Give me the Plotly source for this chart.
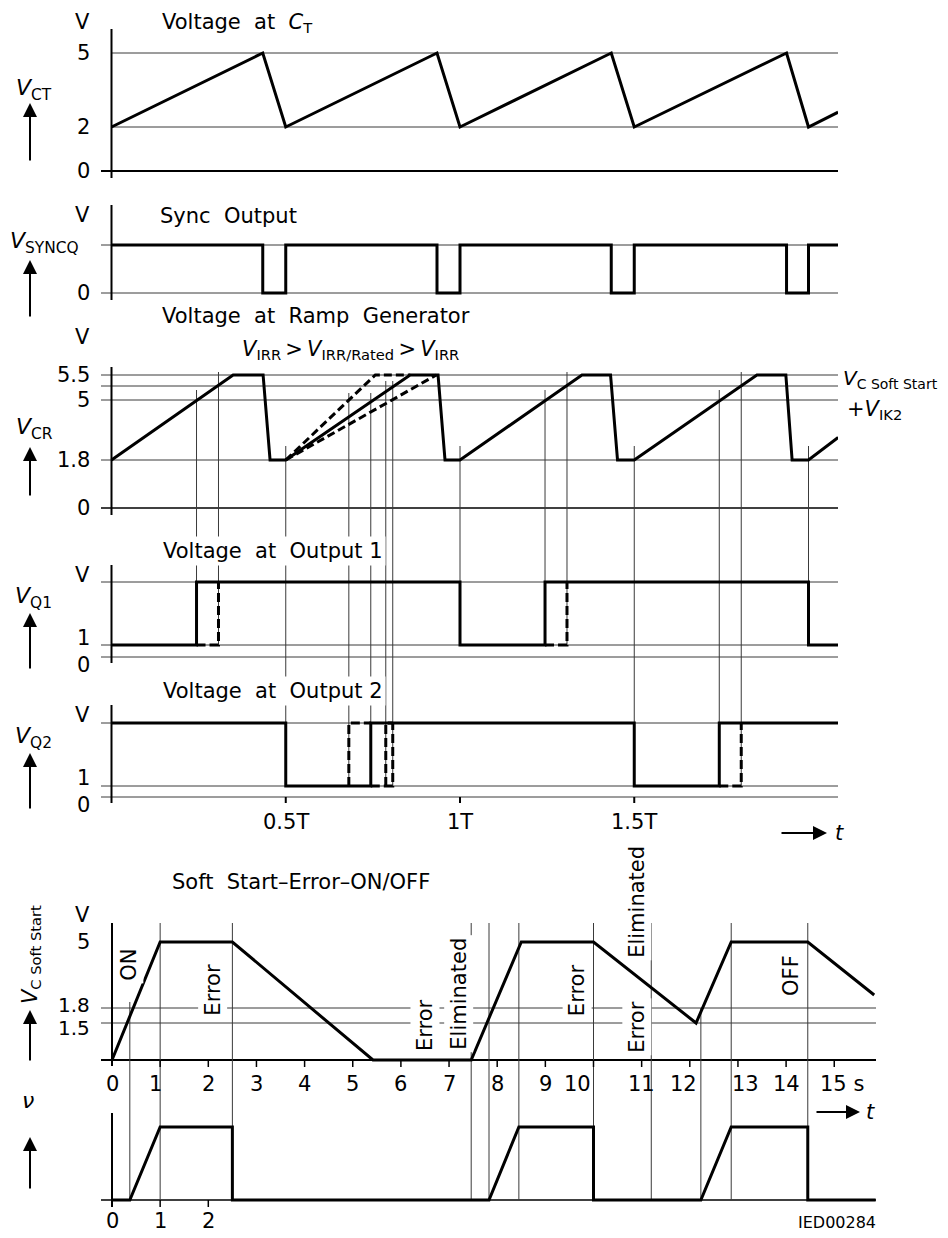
import numpy as np
import plotly.graph_objects as go

W, H = 948, 1238

# ======================= DATA =======================
# --- upper diagrams: time in periods T ---
CT_LEVELS = [0, 2, 5]
CT_TICKS = ['0', '2', '5']
CT_T = [0, 0.434, 0.5, 0.934, 1.0, 1.434, 1.5, 1.937, 2.0, 2.085]
CT_V = [2, 5, 2, 5, 2, 5, 2, 5, 2, 2.6]

SYNC_HIGH = 1
SYNC_LEVELS = [0, SYNC_HIGH]
SYNC_TICKS = ['0', '']
SYNC_T = [0, 0.434, 0.5, 0.934, 1.0, 1.434, 1.5, 1.937, 2.0, 2.085]
SYNC_V = [1, 0, 1, 0, 1, 0, 1, 0, 1, 1]

CR_LEVELS = [0, 1.8, 5, 5.3, 5.5]
CR_TICKS = ['0', '1.8', '5', '', '5.5']
CR_T = [0, 0.349, 0.435, 0.455, 0.5, 0.857, 0.937, 0.957, 1.0,
        1.35, 1.432, 1.452, 1.5, 1.852, 1.935, 1.953, 2.0, 2.085]
CR_V = [1.8, 5.5, 5.5, 1.8, 1.8, 5.5, 5.5, 1.8, 1.8,
        5.5, 5.5, 1.8, 1.8, 5.5, 5.5, 1.8, 1.8, 3.0]
CR_FAST_T = [0.5, 0.757, 0.857]
CR_FAST_V = [1.8, 5.5, 5.5]
CR_SLOW_T = [0.5, 0.932]
CR_SLOW_V = [1.8, 5.5]

Q_HIGH = 6
Q_LEVELS = [0, 1, Q_HIGH]
Q_TICKS = ['0', '1', '']
Q1_T = [0, 0.244, 1.0, 1.244, 2.0, 2.085]
Q1_V = [1, Q_HIGH, 1, Q_HIGH, 1, 1]
Q1_DASH_T = [0.244, 0.307, 0.307, None, 1.244, 1.307, 1.307]
Q1_DASH_V = [1, 1, Q_HIGH, None, 1, 1, Q_HIGH]
Q2_T = [0, 0.5, 0.744, 1.5, 1.744, 2.085]
Q2_V = [Q_HIGH, 1, Q_HIGH, 1, Q_HIGH, Q_HIGH]
Q2_DASH_T = [0.681, 0.681, 0.744, None, 0.744, 0.807, 0.807, None,
             0.787, 0.787, 0.807, None, 1.744, 1.807, 1.807]
Q2_DASH_V = [1, Q_HIGH, Q_HIGH, None, 1, 1, Q_HIGH, None,
             1, Q_HIGH, Q_HIGH, None, 1, 1, Q_HIGH]

MARK_T = [0.244, 0.307, 0.5, 0.681, 0.744, 0.787, 0.807, 1.0,
          1.244, 1.307, 1.5, 1.744, 1.807, 2.0]
MARK_END = ['q1', 'q1', 'q2', 'q2', 'q2', 'q2', 'q2', 'q1',
            'q1', 'q1', 'q2', 'q2', 'q2', 'q1']

T_TICKS = [0.5, 1.0, 1.5]
T_TICK_TEXT = ['0.5T', '1T', '1.5T']

# --- lower diagrams: time in seconds ---
SS_LEVELS = [0, 1.5, 1.8, 5]
SS_TICKS = ['', '1.5', '1.8', '5']
SS_T = [0, 1.0, 2.5, 5.42, 7.46, 8.5, 10.0, 12.13, 12.86, 14.45, 15.83]
SS_V = [0, 5, 5, 0, 0, 5, 5, 1.5, 5, 5, 2.43]

NU_HIGH = 1
NU_LEVELS = [0, NU_HIGH]
NU_T = [0, 0.37, 1.0, 2.5, 2.5, 7.83, 8.45, 10.0, 10.0, 12.23, 12.86, 14.45, 14.45, 15.86]
NU_V = [0, 0, 1, 1, 0, 0, 1, 1, 0, 0, 1, 1, 0, 0]

SS_MARK_T = [0.37, 1.0, 2.5, 7.46, 7.83, 8.45, 10.0, 11.2, 12.23, 12.86, 14.45]

SEC_TICKS = list(range(16))
SEC_TEXT = [str(i) for i in range(15)] + ['15 s']
NU_TICKS = [0, 1, 2]

EVENT_TEXT = [  # (label, time s)
    ('ON', 0.35), ('Error', 2.09), ('Error', 6.5), ('Eliminated', 7.2),
    ('Error', 9.66), ('Eliminated', 10.9), ('Error', 10.9), ('OFF', 14.1)]

# ======================= LAYOUT (pixels) =======================
X0_T, T_PX = 111.5, 348.5          # x pixel of t=0 and pixels per period
X0_S, S_PX = 112.0, 48.15          # x pixel of 0 s and pixels per second
TOP_X = (101, 838)
BOT_X = (101, 876)

PANELS = {
    'ct':   dict(ax='y',  xa='x',  box=(25, 185, 171), lv=CT_LEVELS,   lp=[171, 127, 53],            line=(29, 178)),
    'sync': dict(ax='y2', xa='x',  box=(185, 310, 293), lv=SYNC_LEVELS, lp=[293, 245],                line=(205, 300)),
    'cr':   dict(ax='y3', xa='x',  box=(310, 520, 508), lv=CR_LEVELS,   lp=[508, 460, 400, 386, 375], line=(367, 515)),
    'q1':   dict(ax='y4', xa='x',  box=(520, 680, 657), lv=Q_LEVELS,    lp=[657, 645, 582],           line=(565, 663)),
    'q2':   dict(ax='y5', xa='x',  box=(680, 815, 797), lv=Q_LEVELS,    lp=[797, 786, 723],           line=(705, 803)),
    'ss':   dict(ax='y6', xa='x2', box=(890, 1080, 1060), lv=SS_LEVELS, lp=[1060, 1023, 1008, 942],   line=(923, 1066)),
    'nu':   dict(ax='y7', xa='x2', box=(1080, 1215, 1200), lv=NU_LEVELS, lp=[1200, 1127],             line=(1113, 1207)),
}
MARK_TOP_PX = [390, 372, 446, 393, 393, 381, 381, 446, 390, 372, 446, 390, 372, 446]
SS_MARK_TOP_PX = [1002, 923, 923, 923, 923, 923, 923, 923, 1008, 923, 923]

FONT = 'DejaVu Sans'
BLACK = 'black'
THIN = '#3a3a3a'


def fx(px):
    return px / W


def fy(py):
    return 1 - py / H


def hgt(p, v):
    """volts -> drawing height (px above zero line) of panel p (schematic axis)."""
    P = PANELS[p]
    z = P['box'][2]
    heights = [z - q for q in P['lp']]
    if v is None:
        return None
    return float(np.interp(v, P['lv'], heights))


def px_h(p, py):
    return PANELS[p]['box'][2] - py


def rng(p):
    t, b, z = PANELS[p]['box']
    return [z - b, z - t]


tx_left = (TOP_X[0] - X0_T) / T_PX
tx_right = (TOP_X[1] - X0_T) / T_PX
sx_left = (BOT_X[0] - X0_S) / S_PX
sx_right = (BOT_X[1] - X0_S) / S_PX

fig = go.Figure()


def add_line(p, xs, ys, width=3, color=BLACK, dash=None, shape='linear', volts=True):
    P = PANELS[p]
    yy = [hgt(p, v) for v in ys] if volts else ys
    fig.add_trace(go.Scatter(
        x=xs, y=yy, mode='lines', xaxis=P['xa'], yaxis=P['ax'],
        line=dict(color=color, width=width, dash=dash, shape=shape),
        hoverinfo='skip', showlegend=False, connectgaps=False))


def level_lines(p, left, right, zero_w, zero_c, from_axis=False):
    P = PANELS[p]
    for v in P['lv']:
        if v == 0:
            add_line(p, [left, right], [0, 0], width=zero_w, color=zero_c)
        else:
            add_line(p, [0 if from_axis else left, right], [v, v], width=1, color=THIN)


level_lines('ct', tx_left, tx_right, 2, BLACK, from_axis=True)
level_lines('sync', tx_left, tx_right, 1, THIN)
level_lines('cr', tx_left, tx_right, 1.5, BLACK)
level_lines('q1', tx_left, tx_right, 1, THIN)
level_lines('q2', tx_left, tx_right, 1, THIN)
add_line('ss', [sx_left, sx_right], [0, 0], width=2, color=BLACK)
for v in (1.5, 1.8):
    add_line('ss', [sx_left, sx_right], [v, v], width=1, color=THIN)
add_line('nu', [sx_left, sx_right], [0, 0], width=1.5, color=BLACK)

# ---- vertical marker lines (upper) ----
segs = {'cr': ([], []), 'q1': ([], []), 'q2': ([], [])}
for t, top, end in zip(MARK_T, MARK_TOP_PX, MARK_END):
    segs['cr'][0].extend([t, t, None]); segs['cr'][1].extend([px_h('cr', top), rng('cr')[0], None])
    q1_end = hgt('q1', 1) if end == 'q1' else rng('q1')[0]
    segs['q1'][0].extend([t, t, None]); segs['q1'][1].extend([rng('q1')[1], q1_end, None])
    if end == 'q2':
        segs['q2'][0].extend([t, t, None]); segs['q2'][1].extend([rng('q2')[1], hgt('q2', 1), None])
for p, (xs, ys) in segs.items():
    add_line(p, xs, ys, width=1, color=THIN, volts=False)

# ---- vertical marker lines (lower) ----
sx, sy, nx, ny = [], [], [], []
for t, top in zip(SS_MARK_T, SS_MARK_TOP_PX):
    sx.extend([t, t, None]); sy.extend([px_h('ss', top), rng('ss')[0], None])
    nx.extend([t, t, None]); ny.extend([rng('nu')[1], 0, None])
add_line('ss', sx, sy, width=1, color=THIN, volts=False)
add_line('nu', nx, ny, width=1, color=THIN, volts=False)

# ---- y axis lines ----
for p, P in PANELS.items():
    a, b = P['line']
    add_line(p, [0, 0], [px_h(p, a), px_h(p, b)], width=2, color=BLACK, volts=False)

# ---- x tick marks ----
tx, ty = [], []
for t in T_TICKS:
    tx.extend([t, t, None]); ty.extend([0, -6, None])
add_line('q2', tx, ty, width=2, volts=False)
tx, ty = [], []
for t in SEC_TICKS[1:]:
    tx.extend([t, t, None]); ty.extend([0, -7, None])
add_line('ss', tx, ty, width=1.5, volts=False)
tx, ty = [], []
for t in NU_TICKS[1:]:
    tx.extend([t, t, None]); ty.extend([0, -7, None])
add_line('nu', tx, ty, width=1.5, volts=False)

# ---- waveforms ----
add_line('ct', CT_T, CT_V)
add_line('sync', SYNC_T, [SYNC_LEVELS[v] for v in SYNC_V], shape='hv')
add_line('cr', CR_T, CR_V)
add_line('cr', CR_FAST_T, CR_FAST_V, dash='8px,4px')
add_line('cr', CR_SLOW_T, CR_SLOW_V, dash='8px,4px')
add_line('q1', Q1_T, Q1_V, shape='hv')
add_line('q1', Q1_DASH_T, Q1_DASH_V, dash='9px,4px')
add_line('q2', Q2_T, Q2_V, shape='hv')
add_line('q2', Q2_DASH_T, Q2_DASH_V, dash='9px,4px')
add_line('ss', SS_T, SS_V)
add_line('nu', NU_T, [NU_LEVELS[v] for v in NU_V])

# ======================= TEXT =======================
ann = []


def text(s, x, y, anchor='left', size=21, angle=0, bg=None, xref='paper', yref='paper', yshift=0, xshift=0, family=FONT):
    d = dict(text=s, x=x, y=y, xref=xref, yref=yref, xanchor=anchor, yanchor='middle',
             showarrow=False, textangle=angle, font=dict(family=family, size=size, color=BLACK),
             yshift=yshift, xshift=xshift)
    if bg:
        d.update(bgcolor=bg, borderpad=2)
    ann.append(d)


def arrow(tip, tail):
    ann.append(dict(text='', x=fx(tip[0]), y=fy(tip[1]), xref='paper', yref='paper',
                    ax=tail[0] - tip[0], ay=tail[1] - tip[1], axref='pixel', ayref='pixel',
                    showarrow=True, arrowhead=2, arrowsize=1.4, arrowwidth=2, arrowcolor=BLACK))


SP = '\u00a0\u00a0'
# titles
text('Voltage' + SP + 'at' + SP + '<i>C</i><sub>T</sub>', fx(160), fy(23))
text('Sync' + SP + 'Output', fx(158), fy(216))
text('Voltage' + SP + 'at' + SP + 'Ramp' + SP + 'Generator', fx(160), fy(316))
text('<i>V</i><sub>IRR</sub>\u2009>\u2009<i>V</i><sub>IRR/Rated</sub>\u2009>\u2009<i>V</i><sub>IRR</sub>',
     fx(240), fy(350))
text('Voltage' + SP + 'at' + SP + 'Output\u00a01', fx(160), fy(551), bg='white')
text('Voltage' + SP + 'at' + SP + 'Output\u00a02', fx(160), fy(691), bg='white')
text('Soft' + SP + 'Start–Error–ON/OFF', fx(170), fy(882))

# unit labels
for py in (22, 215, 337, 575, 715, 915):
    text('V', fx(92), fy(py), anchor='right')

# level tick labels
TICK_SHIFT = {'q1': {'1': 7, '0': -8}, 'q2': {'1': 8, '0': -8}, 'ss': {'1.8': 3, '1.5': -5}}
for p, labels in (('ct', CT_TICKS), ('sync', SYNC_TICKS), ('cr', CR_TICKS),
                  ('q1', Q_TICKS), ('q2', Q_TICKS), ('ss', SS_TICKS)):
    P = PANELS[p]
    for v, lab in zip(P['lv'], labels):
        if lab:
            text(lab, fx(92), hgt(p, v), anchor='right', yref=P['ax'],
                 yshift=TICK_SHIFT.get(p, {}).get(lab, 0), size=20 if p == 'ss' and lab != '5' else 21)

# y-axis names + arrows
text('<i>V</i><sub>CT</sub>', fx(34), fy(90), anchor='center', size=22)
arrow((30, 103), (30, 162))
text('<i>V</i><sub>SYNCQ</sub>', fx(44), fy(243), anchor='center', size=22)
arrow((30, 260), (30, 318))
text('<i>V</i><sub>CR</sub>', fx(34), fy(428), anchor='center', size=22)
arrow((30, 447), (30, 497))
text('<i>V</i><sub>Q1</sub>', fx(33), fy(597), anchor='center', size=22)
arrow((30, 613), (30, 670))
text('<i>V</i><sub>Q2</sub>', fx(33), fy(737), anchor='center', size=22)
arrow((30, 753), (30, 810))
text('<i>V</i><sub>C Soft Start</sub>', fx(31), fy(955), anchor='center', size=21, angle=-90)
arrow((30, 1010), (30, 1062))
text('<i>ν</i>', fx(28), fy(1100), anchor='center', size=22)
arrow((30, 1137), (30, 1190))

# right-hand labels
text('<i>V</i><sub>C Soft Start</sub>', fx(841), fy(379), size=20)
text('+<i>V</i><sub>IK2</sub>', fx(845), fy(410), size=21)

# time axis labels
for t, lab in zip(T_TICKS, T_TICK_TEXT):
    text(lab, t, fy(822), anchor='center', xref='x')
arrow((827, 833), (780, 833))
text('<i>t</i>', fx(833), fy(833), size=21)

SEC_SHIFT = {1: -5, 10: -16, 12: -6, 13: 8, 15: 8}
for t, lab in zip(SEC_TICKS, SEC_TEXT):
    text(lab, t, fy(1084), anchor='center', xref='x2', xshift=SEC_SHIFT.get(t, 0))
arrow((860, 1112), (815, 1112))
text('<i>t</i>', fx(864), fy(1112), size=21)
for t in NU_TICKS:
    text(str(t), t, fy(1221), anchor='center', xref='x2')
text('IED00284', fx(878), fy(1222), anchor='right', size=16)

# event labels (rotated)
EVENT_Y = [965, 990, 1025, 994, 990, 902, 1027, 975]
for (lab, t), py in zip(EVENT_TEXT, EVENT_Y):
    text(lab, t, fy(py), anchor='center', xref='x2', angle=-90, bg='white')

# ======================= AXES =======================
layout = dict(
    width=W, height=H, margin=dict(l=0, r=0, t=0, b=0),
    paper_bgcolor='white', plot_bgcolor='rgba(0,0,0,0)', showlegend=False,
    annotations=ann,
    xaxis=dict(domain=[fx(TOP_X[0]), fx(TOP_X[1])], range=[tx_left, tx_right],
               visible=False, anchor='y5', fixedrange=True),
    xaxis2=dict(domain=[fx(BOT_X[0]), fx(BOT_X[1])], range=[sx_left, sx_right],
                visible=False, anchor='y7', fixedrange=True),
)
for p, P in PANELS.items():
    t, b, z = P['box']
    key = 'yaxis' + P['ax'][1:]
    layout[key] = dict(domain=[fy(b), fy(t)], range=rng(p), visible=False,
                       anchor=P['xa'], fixedrange=True)
fig.update_layout(**layout)

fig.write_html('out.html', config={'displayModeBar': False},
               post_script="document.body.style.margin='0px';document.body.style.padding='0px';")
